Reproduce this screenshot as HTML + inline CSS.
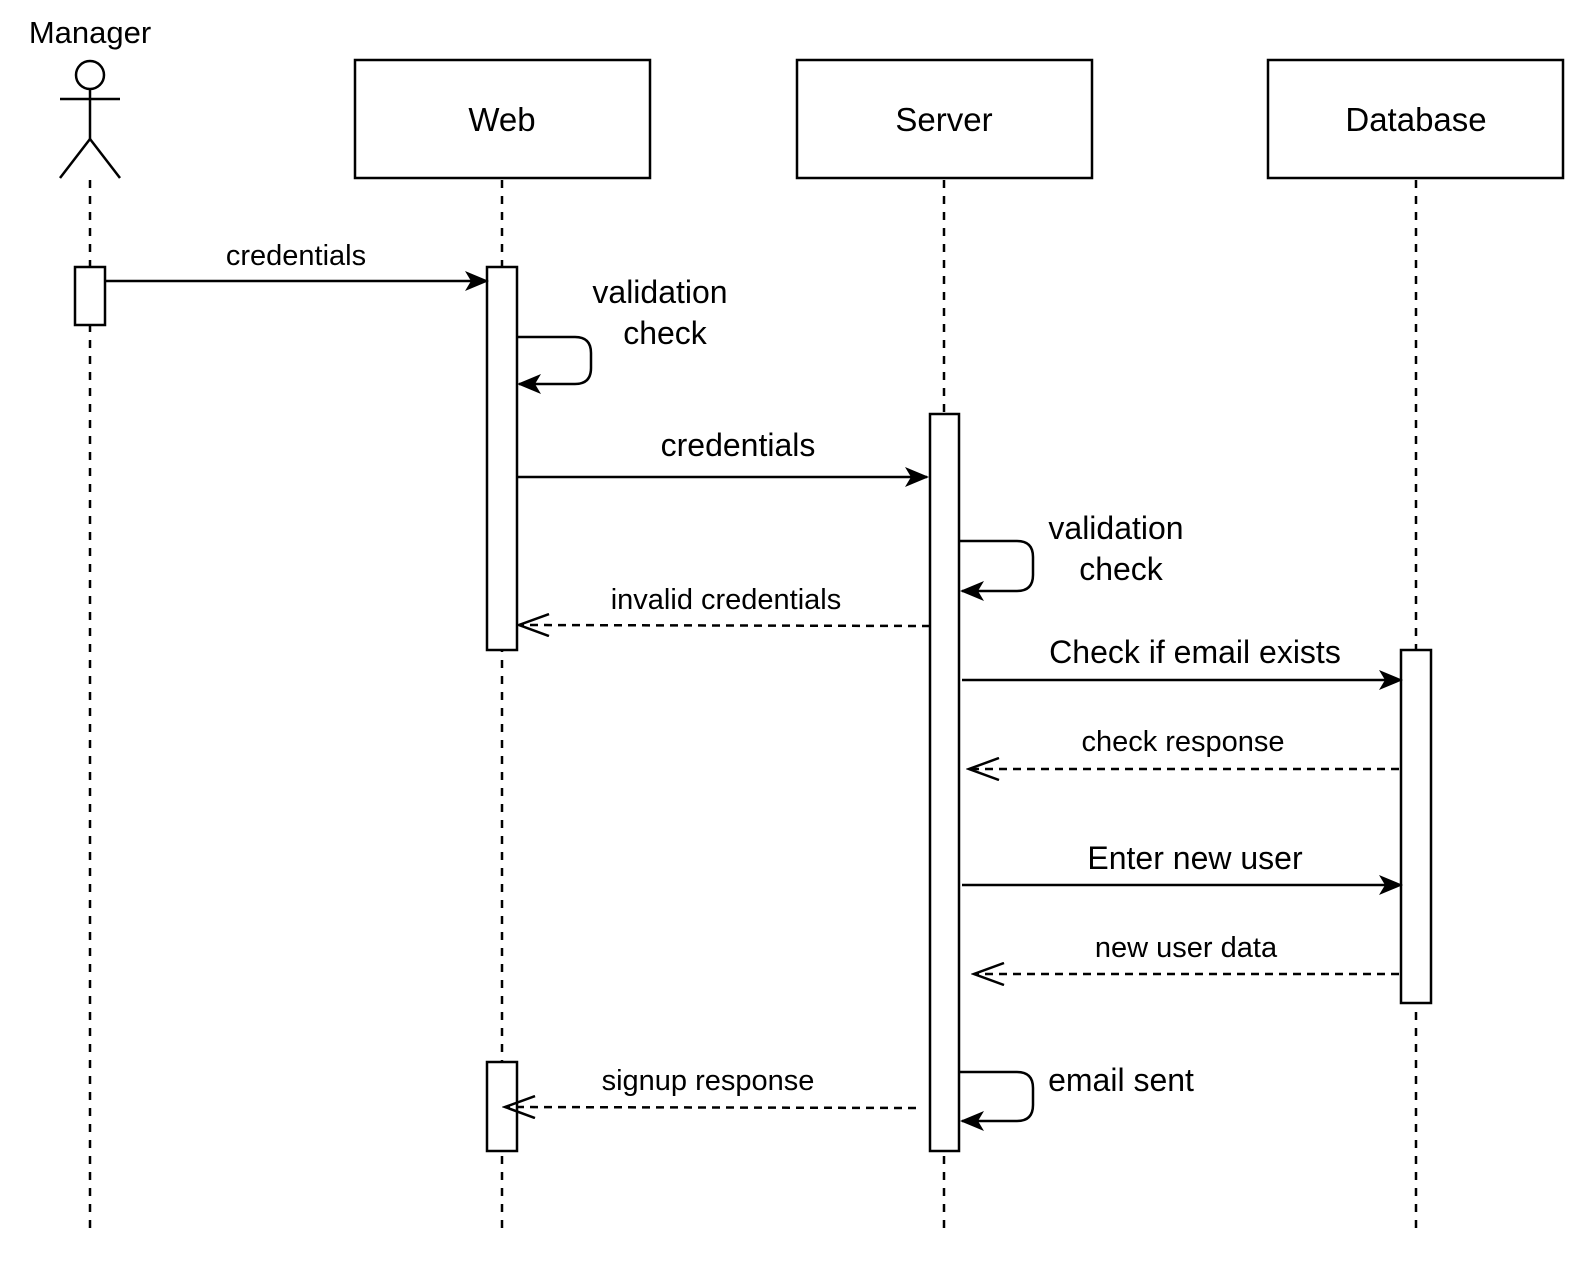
<!DOCTYPE html>
<html><head><meta charset="utf-8"><style>
html,body{margin:0;padding:0;background:#fff;overflow:hidden;width:1596px;height:1266px;}
svg{display:block;}
text{font-family:"Liberation Sans",Arial,sans-serif;fill:#000;}
</style></head><body>
<svg width="1596" height="1266" viewBox="0 0 1596 1266" xmlns="http://www.w3.org/2000/svg">
<defs>
<marker id="fill" viewBox="0 0 24 20" refX="22" refY="10" markerWidth="24" markerHeight="20" markerUnits="userSpaceOnUse" orient="auto">
<path d="M0,0 L24,10 L0,20 L6,10 Z" fill="#000"/></marker>
<marker id="open" viewBox="0 0 34 24" refX="31" refY="12" markerWidth="34" markerHeight="24" markerUnits="userSpaceOnUse" orient="auto">
<path d="M1,1 L31,12 L1,23" fill="none" stroke="#000" stroke-width="2.5"/></marker>
</defs>
<g stroke="#000" stroke-width="2.5" fill="none">
<g stroke-dasharray="8,8">
<line x1="90" y1="180" x2="90" y2="1232"/>
<line x1="502" y1="180" x2="502" y2="1232"/>
<line x1="944" y1="180" x2="944" y2="1232"/>
<line x1="1416" y1="180" x2="1416" y2="1232"/>
</g>
<circle cx="90" cy="75" r="14" fill="#fff"/>
<line x1="90" y1="89" x2="90" y2="139"/>
<line x1="60" y1="99" x2="120" y2="99"/>
<line x1="90" y1="139" x2="60" y2="178"/>
<line x1="90" y1="139" x2="120" y2="178"/>
<rect x="355" y="60" width="295" height="118" fill="#fff"/>
<rect x="797" y="60" width="295" height="118" fill="#fff"/>
<rect x="1268" y="60" width="295" height="118" fill="#fff"/>
<rect x="75" y="267" width="30" height="58" fill="#fff"/>
<rect x="487" y="267" width="30" height="383" fill="#fff"/>
<rect x="487" y="1062" width="30" height="89" fill="#fff"/>
<rect x="930" y="414" width="29" height="737" fill="#fff"/>
<rect x="1401" y="650" width="30" height="353" fill="#fff"/>
<line x1="105" y1="281" x2="487" y2="281" marker-end="url(#fill)"/>
<path d="M517 337 H575 Q591 337 591 353 V368 Q591 384 575 384 H519" marker-end="url(#fill)"/>
<line x1="517" y1="477" x2="927" y2="477" marker-end="url(#fill)"/>
<path d="M959 541 H1017 Q1033 541 1033 557 V575 Q1033 591 1017 591 H962" marker-end="url(#fill)"/>
<line x1="930" y1="626" x2="519" y2="625" stroke-dasharray="8,6" marker-end="url(#open)"/>
<line x1="962" y1="680" x2="1401" y2="680" marker-end="url(#fill)"/>
<line x1="1399" y1="769" x2="969" y2="769" stroke-dasharray="8,6" marker-end="url(#open)"/>
<line x1="962" y1="885" x2="1401" y2="885" marker-end="url(#fill)"/>
<line x1="1399" y1="974" x2="974" y2="974" stroke-dasharray="8,6" marker-end="url(#open)"/>
<path d="M959 1072 H1017 Q1033 1072 1033 1088 V1105 Q1033 1121 1017 1121 H962" marker-end="url(#fill)"/>
<line x1="916" y1="1108" x2="505" y2="1107" stroke-dasharray="8,6" marker-end="url(#open)"/>
</g>
<g text-anchor="middle">
<text x="90" y="43" font-size="31">Manager</text>
<text x="502" y="131" font-size="33">Web</text>
<text x="944" y="131" font-size="33">Server</text>
<text x="1416" y="131" font-size="33">Database</text>
<text x="296" y="265" font-size="29">credentials</text>
<text x="660" y="303" font-size="32">validation</text>
<text x="665" y="344" font-size="32">check</text>
<text x="738" y="456" font-size="32">credentials</text>
<text x="1116" y="539" font-size="32">validation</text>
<text x="1121" y="580" font-size="32">check</text>
<text x="726" y="609" font-size="29">invalid credentials</text>
<text x="1195" y="663" font-size="32">Check if email exists</text>
<text x="1183" y="751" font-size="29">check response</text>
<text x="1195" y="869" font-size="32">Enter new user</text>
<text x="1186" y="957" font-size="29">new user data</text>
<text x="1121" y="1091" font-size="32">email sent</text>
<text x="708" y="1090" font-size="29">signup response</text>
</g>
</svg>
</body></html>
